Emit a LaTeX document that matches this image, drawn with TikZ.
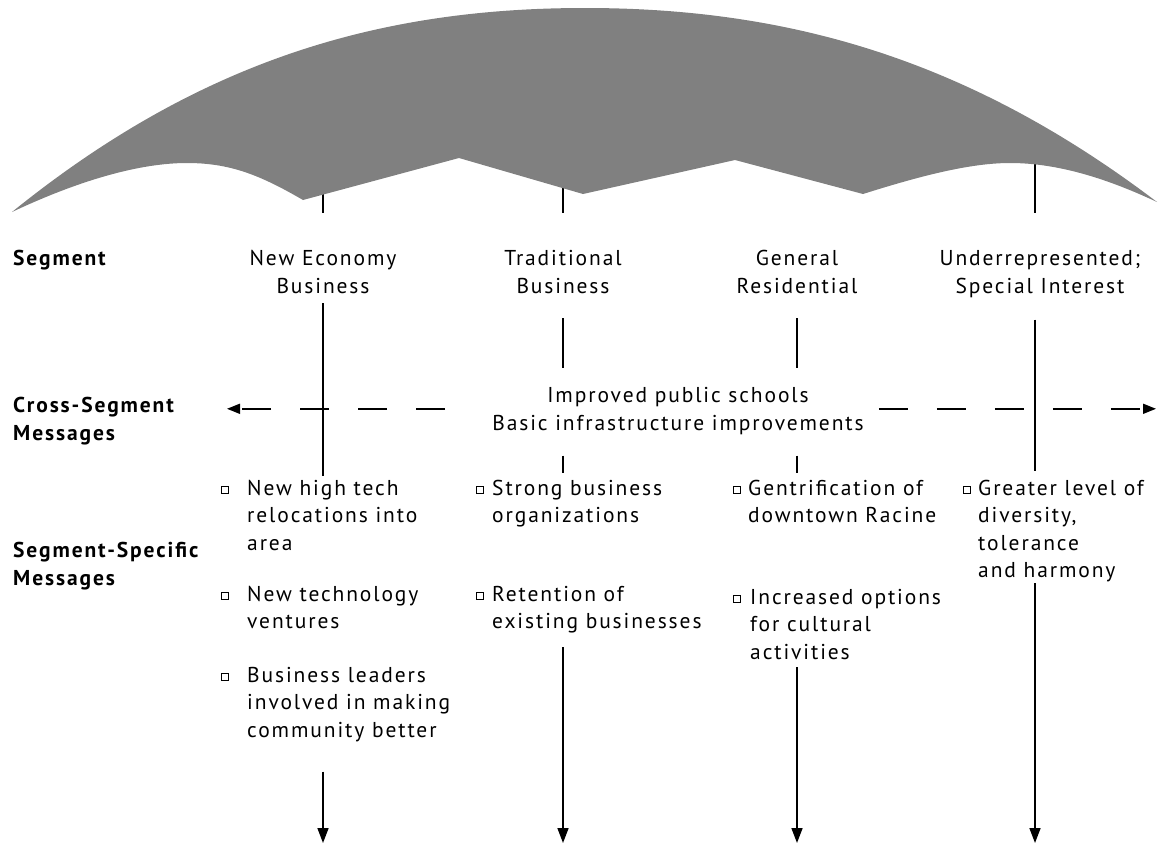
\documentclass[tikz,border=0pt]{standalone}
\usepackage{fontspec}
\setmainfont[LetterSpace=8.8]{PT Sans}
\usetikzlibrary{arrows.meta,positioning}

\begin{document}
\begin{tikzpicture}[x=1pt,y=-1pt,
    txt/.style={inner sep=0pt, font=\fontsize{21.5}{27.5}\selectfont},
    seg/.style={txt, align=center, anchor=base},
    lbl/.style={txt, align=left, anchor=base west, font=\fontsize{21.5}{27.5}\selectfont\bfseries},
    msg/.style={txt, align=left, anchor=base west},
    bul/.style={draw, line width=0.9pt, minimum size=7pt, inner sep=0pt},
    vline/.style={line width=1.6pt},
    darr/.style={line width=1.6pt, dash pattern=on 29pt off 29pt, -{Triangle[length=13pt,width=10pt]}},
    varr/.style={line width=1.6pt, -{Triangle[length=15pt,width=11pt]}}]
  \useasboundingbox (0,0) rectangle (1167,844);

  % column positions (tops of the sticks) and free ends
  \coordinate (k1) at (323,185);
  \coordinate (k2) at (563,185);
  \coordinate (k3) at (797,185);
  \coordinate (k4) at (1035,160);
  \coordinate (bot) at (0,843);
  \coordinate (wl) at (227,0);
  \coordinate (wr) at (1156,0);

  % sticks under the umbrella
  \foreach \k in {k1,k2,k4}
    \draw[vline] (\k) -- (\k |- 0,213);

  % umbrella
  \fill[black!50] (12,212) .. controls (200,60) and (380,8) .. (585,8)
    .. controls (790,8) and (970,60) .. (1157,202)
    .. controls (1110,180) and (1060,163) .. (1010,163)
    .. controls (970,163) and (920,176) .. (863,194)
    -- (735,160) -- (583,194) -- (459,158) -- (303,200)
    .. controls (260,175) and (230,163) .. (187,163)
    .. controls (140,163) and (80,180) .. cycle;

  % row labels (placed at the baseline of the last line)
  \node[lbl] (lseg) at (13,265) {Segment};
  \node[lbl] (lcross) at (13,440) {Cross-Segment\\Messages};
  \node[lbl] (lspec) at (13,585) {Segment-Specific\\Messages};

  % segments
  \node[seg] (s1) at (323,293) {New Economy\\Business};
  \node[seg] (s2) at (563,293) {Traditional\\Business};
  \node[seg] (s3) at (797,293) {General\\Residential};
  \node[seg] (s4) at (1040,293) {Underrepresented;\\Special Interest};

  \node[seg] (cross) at (678,430) {Improved public schools\\Basic infrastructure improvements};

  % segment-specific messages
  \node[msg] (m11) at (247,550) {New high tech\\relocations into\\area};
  \node[msg] (m12) at (247,628.5) {New technology\\ventures};
  \node[msg] (m13) at (247,737) {Business leaders\\involved in making\\community better};
  \node[msg] (m21) at (492,522.5) {Strong business\\organizations};
  \node[msg] (m22) at (492,628.5) {Retention of\\existing businesses};
  \node[msg] (m31) at (748,522.5) {Gentrification of\\downtown Racine};
  \node[msg] (m32) at (750,659) {Increased options\\for cultural\\activities};
  \node[msg] (m41) at (978,577.5) {Greater level of\\diversity,\\tolerance\\and harmony};

  % bullets, at the first line of each message
  \foreach \m/\d/\n in {m11/22/3,m12/22/2,m13/22/3,m21/12/2,m22/12/2,m31/11/2,m32/13/3,m41/11/4}
    \node[bul] (b\m) at ([shift={(-\d,{-5-27.5*(\n-1)})}]\m.base west) {};

  % vertical lines
  \draw[vline, shorten <=10pt, shorten >=4pt] (k1 |- s1.south) -- (k1 |- m11.north);
  \draw[vline, shorten <=25pt, shorten >=19pt] (k2 |- s2.south) -- (k2 |- cross.north);
  \draw[vline, shorten <=25pt, shorten >=19pt] (k3 |- s3.south) -- (k3 |- cross.north);
  \draw[vline, shorten <=21pt, shorten >=7pt] (k2 |- cross.south) -- (k2 |- m21.north);
  \draw[vline, shorten <=21pt, shorten >=7pt] (k3 |- cross.south) -- (k3 |- m31.north);
  \draw[vline, shorten <=22pt, shorten >=9pt] (k4 |- s4.south) -- (k4 |- m41.north);

  % cross-segment arrows
  \draw[darr] ([shift={(-47pt,2pt)}]cross.west) -- ([yshift=2pt]wl |- cross.west);
  \draw[darr] ([shift={(15pt,2pt)}]cross.east) -- ([yshift=2pt]wr |- cross.east);

  % arrows down
  \draw[varr, shorten <=30pt] (k1 |- m13.south) -- (k1 |- bot);
  \draw[varr, shorten <=14pt] (k2 |- m22.south) -- (k2 |- bot);
  \draw[varr, shorten <=8pt] (k3 |- m32.south) -- (k3 |- bot);
  \draw[varr, shorten <=1pt] (k4 |- m41.south) -- (k4 |- bot);
\end{tikzpicture}
\end{document}
